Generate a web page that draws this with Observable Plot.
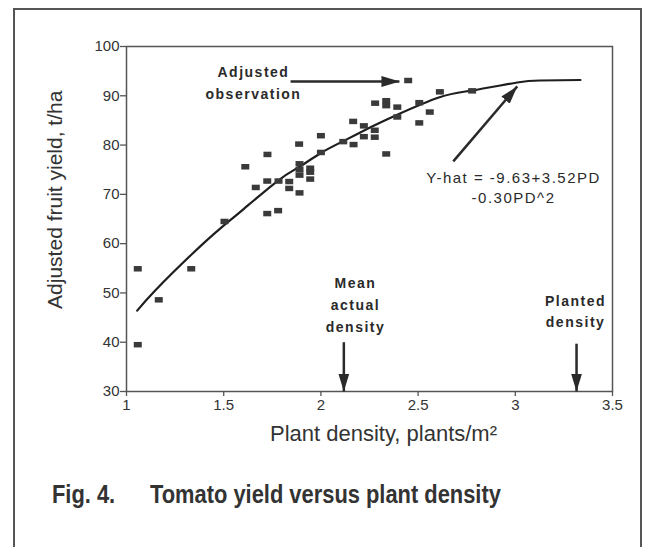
<!DOCTYPE html>
<html>
<head>
<meta charset="utf-8">
<script src="https://cdn.jsdelivr.net/npm/d3@7"></script>
<script src="https://cdn.jsdelivr.net/npm/@observablehq/plot@0.6"></script>
<style>
  html, body { margin: 0; padding: 0; background: #fff; }
  #page { position: relative; width: 647px; height: 547px; overflow: hidden;
          font-family: "Liberation Sans", Arial, Helvetica, sans-serif; color: #333; }
  #border { position: absolute; left: 13px; top: 8px; width: 629px; height: 600px;
            border: 2px solid #555; box-sizing: border-box; }
  #chart { position: absolute; left: 0; top: 0; }
  .caption { position: absolute; top: 482px; font-weight: bold; font-size: 25px; line-height: 25px;
             color: #333; white-space: nowrap; transform: scaleX(0.875); transform-origin: left top; }
</style>
</head>
<body>
<div id="page">
  <div id="border"></div>
  <div id="chart"></div>
  <div class="caption" style="left:52px">Fig. 4.</div>
  <div class="caption" style="left:150px">Tomato yield versus plant density</div>
</div>
<script>
// Observed plots: plant density (plants/m²) and adjusted fruit yield (t/ha)
const density = [
  1.058, 1.058, 1.166, 1.333, 1.504, 1.611, 1.665, 1.724, 1.724, 1.725,
  1.780, 1.782, 1.837, 1.837, 1.888, 1.890, 1.890, 1.890, 1.890, 1.945,
  1.945, 1.945, 2.000, 2.000, 2.115, 2.166, 2.168, 2.221, 2.221, 2.277,
  2.277, 2.279, 2.336, 2.336, 2.336, 2.393, 2.393, 2.449, 2.506, 2.506,
  2.560, 2.612, 2.778
];
const yieldObs = [
  54.9, 39.5, 48.6, 54.9, 64.5, 75.6, 71.4, 66.1, 72.7, 78.1,
  66.7, 72.7, 72.6, 71.2, 80.2, 76.2, 75.0, 73.9, 70.3, 75.3,
  74.5, 73.1, 81.9, 78.5, 80.7, 84.8, 80.1, 83.9, 81.7, 83.0,
  81.6, 88.5, 89.0, 88.0, 78.2, 87.7, 85.7, 93.1, 88.6, 84.5,
  86.7, 90.8, 91.0
];

// Fitted quadratic response, as drawn
const fitDensity = [1.055, 1.15, 1.34, 1.48, 1.59, 1.78, 1.89, 2.0, 2.12, 2.25, 2.39, 2.61, 2.78, 3.01, 3.13, 3.335];
const fitYield   = [46.4, 50.6, 58.0, 63.0, 66.6, 72.8, 75.6, 78.4, 80.9, 83.5, 86.1, 89.7, 91.1, 92.7, 93.1, 93.2];

const xTicks = [1, 1.5, 2, 2.5, 3, 3.5];
const yTicks = [30, 40, 50, 60, 70, 80, 90, 100];

const meanDensity = 2.118;
const plantedDensity = 3.315;

// Call-out arrows
const arrows = [
  {x1: 1.844, y1: 92.9, x2: 2.404, y2: 92.9},
  {x1: 2.681, y1: 76.7, x2: 3.010, y2: 91.9},
  {x1: meanDensity, y1: 40.0, x2: meanDensity, y2: 30},
  {x1: plantedDensity, y1: 39.7, x2: plantedDensity, y2: 30}
];

const boldNotes = [
  {x: 1.653, y: 93.0, text: "Adjusted\nobservation"},
  {x: 2.178, y: 47.95, text: "Mean\nactual\ndensity"},
  {x: 3.31, y: 46.65, text: "Planted\ndensity"}
];
const equationNote = [{x: 2.991, y: 71.64, text: "Y-hat = -9.63+3.52PD\n-0.30PD^2"}];

const points = density.map((d, i) => ({density: d, yield: yieldObs[i]}));
const fit = fitDensity.map((d, i) => ({density: d, yield: fitYield[i]}));

// Small filled rectangle for each observation
const plotSquare = {
  draw(context) { context.rect(-4, -2.75, 8, 5.5); }
};

// Solid triangular arrowhead
function filledHead(color) {
  const m = d3.create("svg:marker")
    .attr("viewBox", "-18 -5.5 18 11")
    .attr("markerWidth", 18)
    .attr("markerHeight", 11)
    .attr("markerUnits", "userSpaceOnUse")
    .attr("refX", 0)
    .attr("refY", 0)
    .attr("orient", "auto")
    .attr("fill", color)
    .attr("stroke", "none");
  m.append("path").attr("d", "M-18,-5.5L0,0L-18,5.5Z");
  return m.node();
}

const font = '"Liberation Sans", Arial, Helvetica, sans-serif';

const chart = Plot.plot({
  width: 647,
  height: 470,
  marginLeft: 126,
  marginRight: 35,
  marginTop: 46,
  marginBottom: 79,
  x: {domain: [1, 3.5]},
  y: {domain: [30, 100]},
  style: {fontFamily: font, fontSize: "15px", color: "#333", background: "transparent", overflow: "visible"},
  marks: [
    Plot.axisY({ticks: yTicks, tickSize: 6, tickPadding: 1, label: null, stroke: "#555", strokeWidth: 1.3, fontSize: 15}),
    Plot.axisX({ticks: xTicks, tickSize: 5, tickPadding: 2.5, label: null, stroke: "#555", strokeWidth: 1.3,
                fontSize: 15, tickFormat: d => String(d)}),
    Plot.frame({stroke: "#555", strokeWidth: 1.5}),
    Plot.line(fit, {x: "density", y: "yield", curve: "natural", stroke: "#1e1e1e", strokeWidth: 2.2}),
    Plot.dot(points, {x: "density", y: "yield", symbol: plotSquare, fill: "#3a3a3a", stroke: null}),
    Plot.link(arrows, {x1: "x1", y1: "y1", x2: "x2", y2: "y2", stroke: "#2a2a2a", strokeWidth: 2.5, markerEnd: filledHead}),
    Plot.text(["Plant density, plants/m²"], {text: d => d, frameAnchor: "bottom", textAnchor: "middle", dx: 14, dy: 49, fontSize: 22, fill: "#333"}),
    Plot.text([{label: "Adjusted fruit yield, t/ha", y: 68.9}], {text: "label", y: "y", frameAnchor: "left", textAnchor: "middle", rotate: -90, dx: -71, fontSize: 21, fill: "#333"}),
    Plot.text(boldNotes, {x: "x", y: "y", text: "text", fontWeight: "bold", fontSize: 14, lineHeight: 1.55, fill: "#2a2a2a"}),
    Plot.text(equationNote, {x: "x", y: "y", text: "text", fontSize: 15, lineHeight: 1.33, fill: "#2a2a2a"})
  ]
});

// Call-out lettering is set wide
const textGroups = d3.select(chart).selectAll('g[aria-label="text"]').nodes();
textGroups.slice(-2).forEach(g => d3.select(g).selectAll("text").style("letter-spacing", "1.5px"));

document.getElementById("chart").appendChild(chart);
</script>
</body>
</html>
